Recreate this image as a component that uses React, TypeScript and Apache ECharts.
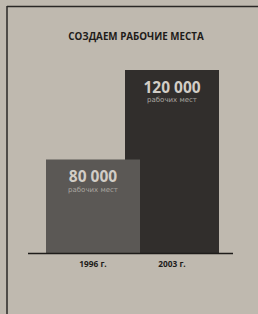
import React, { useEffect, useRef } from "react";
import * as echarts from "echarts";

const title = "СОЗДАЕМ РАБОЧИЕ МЕСТА";
const categories = ["1996 г.", "2003 г."];
const values = [80000, 120000];
const unitLabel = "рабочих мест";

const fmt = (v: number) => String(v).replace(/\B(?=(\d{3})+(?!\d))/g, " ");

export default function App() {
  const ref = useRef<HTMLDivElement>(null);
  useEffect(() => {
    const chart = echarts.init(ref.current!, null, { renderer: "svg" });
    const label = {
      show: true,
      position: "insideTop",
      distance: 8.5,
      formatter: (p: any) => `{n|${fmt(p.value)}}\n{u|${unitLabel}}`,
      rich: {
        n: { fontFamily: "Open Sans", fontWeight: "bold", fontSize: 15.5, color: "#d2cdc6", lineHeight: 16 },
        u: { fontFamily: "DejaVu Sans", fontSize: 7, color: "#aaa6a0", lineHeight: 11.5 },
      },
    };
    const barColors = ["#5b5855", "#312e2c"];
    const gridLefts = [46, 125];
    const barWidth = 94;
    const grids = gridLefts.map((l) => ({ left: l, width: barWidth, top: 70, bottom: 314 - 253.5 }));
    chart.setOption({
      animation: false,
      backgroundColor: "#bfb9af",
      title: {
        text: title,
        left: 131,
        textAlign: "center",
        top: 26.5,
        textStyle: { fontFamily: "Open Sans", fontWeight: "bold", fontSize: 9.8, color: "#1e1c1a" },
      },
      grid: grids,
      xAxis: categories.map((c, i) => ({
        type: "category",
        gridIndex: i,
        data: [c],
        axisLine: { show: false },
        axisTick: { show: false },
        axisLabel: {
          margin: 6,
          fontFamily: "Open Sans",
          fontWeight: "bold",
          fontSize: 8.3,
          color: "#1e1c1a",
        },
      })),
      yAxis: categories.map((_, i) => ({
        type: "value",
        gridIndex: i,
        min: 38000,
        max: 120000,
        show: false,
        splitLine: { show: false },
      })),
      series: values.map((v, i) => ({
        type: "bar",
        xAxisIndex: i,
        yAxisIndex: i,
        data: [v],
        barWidth,
        z: 3 - i,
        itemStyle: { color: barColors[i] },
        label: { ...label, z: 3 - i },
      })),
      graphic: [
        { type: "line", shape: { x1: 7, y1: 6.5, x2: 258, y2: 6.5 }, style: { stroke: "#2a2826", lineWidth: 1.5 } },
        { type: "line", shape: { x1: 7, y1: 6, x2: 7, y2: 314 }, style: { stroke: "#2a2826", lineWidth: 1.5 } },
        { type: "line", z: 10, shape: { x1: 28, y1: 253.5, x2: 233, y2: 253.5 }, style: { stroke: "#1e1c1a", lineWidth: 1.5 } },
      ],
    });
    return () => chart.dispose();
  }, []);
  return (
    <div style={{ position: "fixed", left: 0, top: 0, width: 258, height: 314 }}>
      <div ref={ref} style={{ width: 258, height: 314 }} />
    </div>
  );
}
